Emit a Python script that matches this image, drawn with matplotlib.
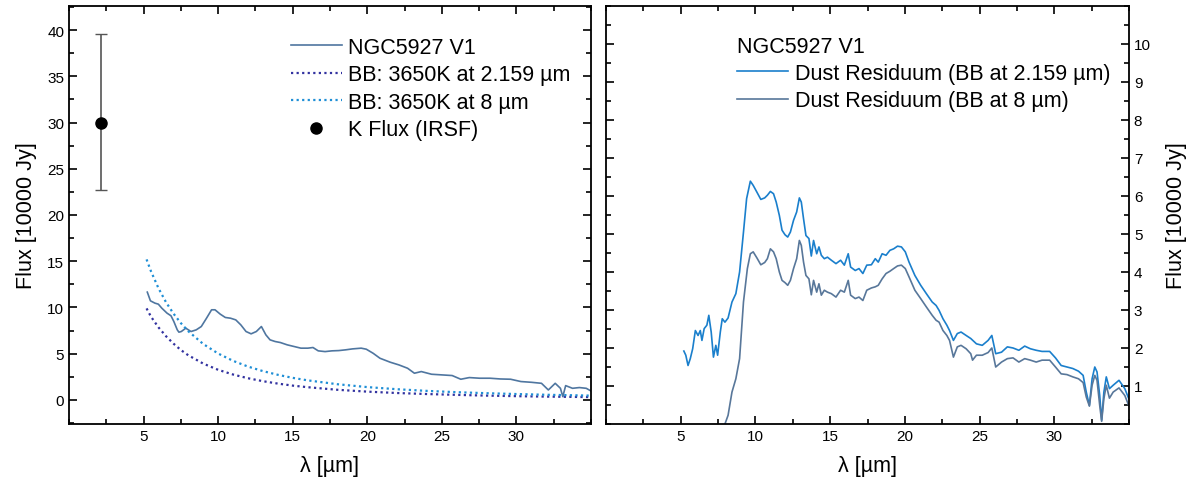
import matplotlib
matplotlib.use("Agg")
import matplotlib.pyplot as plt
from matplotlib.ticker import FixedLocator, MultipleLocator
import numpy as np

plt.rcParams['font.family'] = ['Liberation Sans', 'DejaVu Sans']

# --- left panel data ---
spec_wl = [5.25, 5.46, 5.76, 5.99, 6.22, 6.57, 6.84, 7.03, 7.26, 7.37, 7.53, 7.83, 8.18, 8.53,
           8.87, 9.22, 9.56, 9.79, 10.14, 10.48, 10.83, 11.18, 11.52, 11.87, 12.21, 12.56, 12.9,
           13.2, 13.48, 13.82, 14.17, 14.63, 15.09, 15.55, 16.01, 16.36, 16.71, 17.17, 17.63,
           18.09, 18.55, 19.0, 19.59, 19.93, 20.39, 20.85, 21.54, 22.12, 22.7, 23.16, 23.62,
           24.31, 25.0, 25.69, 26.27, 26.84, 27.53, 28.23, 28.92, 29.61, 30.3, 31.0, 31.68,
           32.14, 32.6, 32.95, 33.11, 33.3, 33.76, 34.22, 34.68, 35.0]
spec_flux = [11.66, 10.72, 10.47, 10.36, 9.93, 9.39, 9.1, 8.48, 7.58, 7.33, 7.4, 7.76, 7.4, 7.58,
             7.94, 8.84, 9.75, 9.75, 9.28, 8.92, 8.84, 8.66, 8.12, 7.4, 7.15, 7.4, 7.94,
             7.04, 6.5, 6.32, 6.21, 5.96, 5.78, 5.6, 5.6, 5.67, 5.31, 5.23, 5.31,
             5.34, 5.42, 5.52, 5.6, 5.49, 5.05, 4.51, 4.08, 3.79, 3.43, 2.89, 3.07,
             2.78, 2.71, 2.64, 2.24, 2.42, 2.35, 2.35, 2.27, 2.24, 1.99, 1.91, 1.8,
             1.08, 1.8, 1.26, 0.36, 1.55, 1.26, 1.34, 1.26, 0.97]

bb_wl = [5.2, 5.5, 6, 6.5, 7, 7.5, 8, 9, 10, 11, 12, 13, 14, 15, 16, 18, 20, 22, 24, 26, 28, 30, 32, 35]
bb_k = [9.9, 9.0, 7.85, 6.9, 6.1, 5.4, 4.83, 3.93, 3.26, 2.75, 2.35, 2.03, 1.77, 1.55, 1.38, 1.1,
        0.9, 0.75, 0.64, 0.55, 0.47, 0.41, 0.36, 0.31]
bb_8 = [15.2, 13.9, 12.08, 10.58, 9.35, 8.31, 7.43, 6.05, 5.02, 4.23, 3.61, 3.12, 2.72, 2.39, 2.12,
        1.70, 1.39, 1.16, 0.98, 0.84, 0.73, 0.64, 0.56, 0.47]

k_wl = [2.159]
k_flux = [30.0]
k_err_lo = [7.3]
k_err_hi = [9.6]

# --- right panel data ---
res_k_wl = [5.21, 5.34, 5.49, 5.64, 5.8, 5.98, 6.16, 6.31, 6.42, 6.57, 6.75, 6.88, 7.04, 7.19,
            7.35, 7.47, 7.65, 7.78, 7.96, 8.17, 8.43, 8.69, 8.94, 9.2, 9.41, 9.66, 9.85, 10.1,
            10.36, 10.62, 10.8, 11.0, 11.21, 11.39, 11.6, 11.78, 11.98, 12.16, 12.34, 12.55,
            12.76, 12.94, 13.07, 13.22, 13.38, 13.58, 13.74, 13.89, 14.1, 14.25, 14.41, 14.61,
            14.82, 15.08, 15.39, 15.7, 15.95, 16.21, 16.37, 16.68, 16.93, 17.19, 17.45, 17.76,
            18.02, 18.22, 18.48, 18.74, 19.0, 19.25, 19.51, 19.77, 20.03, 20.28, 20.67, 21.06,
            21.44, 21.83, 22.09, 22.29, 22.55, 22.81, 22.99, 23.25, 23.51, 23.76, 24.1, 24.41,
            24.79, 25.18, 25.57, 25.82, 26.08, 26.47, 26.86, 27.24, 27.63, 28.02, 28.4, 28.79,
            29.18, 29.69, 30.08, 30.46, 30.85, 31.24, 31.62, 31.93, 32.14, 32.35, 32.53, 32.71,
            32.86, 33.04, 33.17, 33.32, 33.48, 33.69, 33.94, 34.33, 34.72, 34.98]
res_k = [1.92, 1.81, 1.54, 1.72, 1.98, 2.46, 2.33, 2.46, 2.2, 2.51, 2.6, 2.86, 2.42, 1.76,
         2.07, 1.81, 2.42, 2.77, 2.68, 2.79, 3.21, 3.43, 4.0, 5.05, 5.93, 6.39, 6.28, 6.1,
         5.91, 5.95, 6.02, 6.12, 6.06, 5.84, 5.49, 5.1, 4.98, 4.92, 5.05, 5.36,
         5.58, 5.95, 5.84, 5.4, 4.96, 4.88, 4.42, 4.83, 4.48, 4.66, 4.44, 4.35,
         4.39, 4.31, 4.22, 4.31, 4.18, 4.48, 4.13, 4.04, 4.09, 3.96, 4.18, 4.19,
         4.35, 4.26, 4.48, 4.44, 4.57, 4.61, 4.68, 4.66, 4.53, 4.26, 3.91, 3.65,
         3.43, 3.21, 3.12, 2.99, 2.77, 2.6, 2.46, 2.2, 2.38, 2.42, 2.33, 2.25,
         2.11, 2.07, 2.2, 2.33, 1.85, 1.89, 2.03, 2.0, 1.94, 2.05, 1.98, 1.94,
         1.91, 1.91, 1.74, 1.54, 1.5, 1.46, 1.39, 1.28, 0.84, 0.49, 1.19, 1.5,
         1.37, 0.75, 0.1, 0.84, 1.24, 0.93, 1.02, 1.15, 0.93, 0.67]

res_8_wl = [7.96, 8.17, 8.43, 8.69, 8.94, 9.2, 9.46, 9.66, 9.85, 10.1, 10.36, 10.62, 10.8, 11.0,
            11.21, 11.39, 11.6, 11.78, 11.98, 12.16, 12.34, 12.55, 12.76, 12.94, 13.07, 13.22,
            13.38, 13.58, 13.74, 13.89, 14.1, 14.25, 14.41, 14.61, 14.82, 15.08, 15.39, 15.7,
            15.95, 16.21, 16.37, 16.68, 16.93, 17.19, 17.45, 17.76, 18.02, 18.22, 18.48, 18.74,
            19.0, 19.25, 19.51, 19.77, 20.03, 20.28, 20.67, 21.06, 21.44, 21.83, 22.09, 22.29,
            22.55, 22.81, 22.99, 23.25, 23.51, 23.76, 24.1, 24.41, 24.53, 24.79, 25.18, 25.57,
            25.82, 26.08, 26.47, 26.86, 27.24, 27.63, 28.02, 28.4, 28.79, 29.18, 29.69, 30.08,
            30.46, 30.85, 31.24, 31.62, 31.93, 32.14, 32.35, 32.53, 32.71, 32.86, 33.04, 33.17,
            33.32, 33.48, 33.69, 33.94, 34.33, 34.72, 34.98]
res_8 = [0.0, 0.23, 0.84, 1.19, 1.72, 3.21, 4.09, 4.48, 4.53, 4.37, 4.19, 4.25, 4.35, 4.61,
         4.53, 4.35, 4.0, 3.78, 3.72, 3.65, 3.78, 4.09, 4.35, 4.83, 4.7, 4.26,
         3.91, 3.82, 3.4, 3.78, 3.47, 3.69, 3.39, 3.52, 3.47, 3.43, 3.34, 3.52,
         3.47, 3.78, 3.39, 3.3, 3.34, 3.25, 3.52, 3.58, 3.61, 3.65, 3.82, 3.96,
         4.02, 4.09, 4.16, 4.18, 4.09, 3.87, 3.52, 3.3, 3.08, 2.86, 2.73, 2.68,
         2.46, 2.33, 2.2, 1.76, 2.03, 2.07, 1.98, 1.85, 1.68, 1.81, 1.81, 1.88,
         2.0, 1.5, 1.63, 1.72, 1.74, 1.63, 1.72, 1.68, 1.63, 1.68, 1.68, 1.5,
         1.32, 1.3, 1.24, 1.19, 1.09, 0.71, 0.47, 1.02, 1.28, 1.15, 0.49, 0.07,
         0.67, 1.02, 0.68, 0.84, 0.95, 0.75, 0.49]

c_spec = '#4f76a0'
c_bbk = '#3232a0'
c_bb8 = '#1f8fd6'
c_resk = '#1a7fcc'
c_res8 = '#58779a'

fig = plt.figure(figsize=(11.92, 4.81), dpi=100)
ax1 = fig.add_axes([69/1192, 1-425/481, 522/1192, 418/481])
ax2 = fig.add_axes([606/1192, 1-425/481, 523/1192, 418/481])

ax1.plot(spec_wl, spec_flux, color=c_spec, lw=1.2, label='NGC5927 V1')
ax1.plot(bb_wl, bb_k, color=c_bbk, lw=1.6, ls=(0, (1, 1.5)), label='BB: 3650K at 2.159 µm')
ax1.plot(bb_wl, bb_8, color=c_bb8, lw=1.6, ls=(0, (1, 1.5)), label='BB: 3650K at 8 µm')
ax1.errorbar(k_wl, k_flux, yerr=[k_err_lo, k_err_hi], fmt='none', ecolor='#555555',
             elinewidth=1.2, capsize=4)
ax1.plot(k_wl, k_flux, 'o', color='black', ms=8, ls='none', label='K Flux (IRSF)')

ax1.set_xlim(0, 35)
ax1.set_ylim(-2.6, 42.6)
ax1.xaxis.set_major_locator(FixedLocator([5, 10, 15, 20, 25, 30]))
ax1.xaxis.set_minor_locator(MultipleLocator(2.5))
ax1.yaxis.set_major_locator(MultipleLocator(5))
ax1.yaxis.set_minor_locator(MultipleLocator(2.5))
ax1.set_xlabel('λ [µm]', fontsize=15.5, labelpad=9)
ax1.set_ylabel('Flux [10000 Jy]', fontsize=15.5, labelpad=7)
ax1.legend(loc='upper left', bbox_to_anchor=(0.404, 0.952), frameon=False, fontsize=15.5,
           handlelength=2.37, handletextpad=0.3, labelspacing=0.3, borderpad=0)

ax2.plot(res_k_wl, res_k, color=c_resk, lw=1.2, label='Dust Residuum (BB at 2.159 µm)')
ax2.plot(res_8_wl, res_8, color=c_res8, lw=1.2, label='Dust Residuum (BB at 8 µm)')
ax2.set_xlim(0, 35)
ax2.set_ylim(0, 11)
ax2.xaxis.set_major_locator(FixedLocator([5, 10, 15, 20, 25, 30]))
ax2.xaxis.set_minor_locator(MultipleLocator(2.5))
ax2.yaxis.set_major_locator(FixedLocator(range(1, 11)))
ax2.yaxis.set_minor_locator(MultipleLocator(0.5))
ax2.yaxis.tick_right()
ax2.yaxis.set_label_position('right')
ax2.set_xlabel('λ [µm]', fontsize=15.5, labelpad=9)
ax2.set_ylabel('Flux [10000 Jy]', fontsize=15.5, rotation=90, labelpad=11)
ax2.legend(loc='upper left', bbox_to_anchor=(0.23, 0.955), frameon=False, fontsize=15.5,
           title='NGC5927 V1', title_fontsize=15.5, alignment='left',
           handlelength=2.37, handletextpad=0.3, labelspacing=0.3, borderpad=0)

for ax in (ax1, ax2):
    ax.tick_params(which='both', direction='in', top=True, bottom=True, left=True, right=True,
                   labelsize=11, width=1.2)
    ax.tick_params(which='major', length=6)
    ax.tick_params(which='minor', length=3.5)
    for s in ax.spines.values():
        s.set_linewidth(1.3)
ax2.tick_params(labelleft=False, labelright=True)

fig.savefig('out.png', dpi=100)
